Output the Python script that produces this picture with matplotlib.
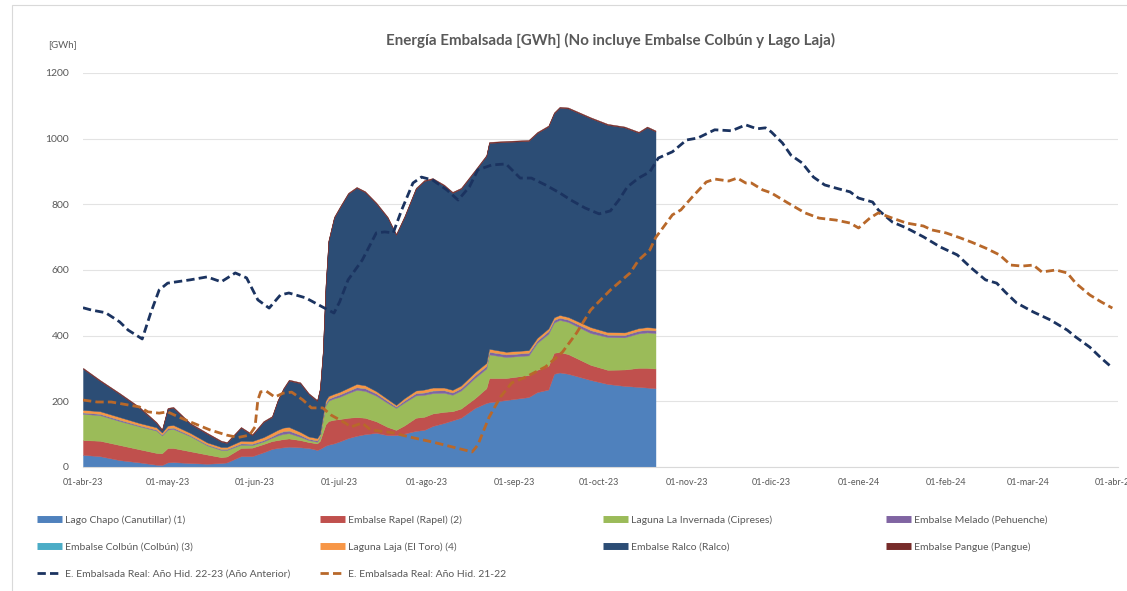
import numpy as np
import matplotlib
matplotlib.use('Agg')
import matplotlib.pyplot as plt
from matplotlib.lines import Line2D
from matplotlib.patches import Rectangle

plt.rcParams['font.family'] = ['Lato', 'DejaVu Sans']

# ---------------- DATA ----------------
start_date = '2023-04-01'
# days since 01-abr-23 for the stacked series
stack_days = [0, 6, 13, 20, 26, 28, 30, 32, 38, 44,
              49, 51, 56, 60, 64, 67, 69, 71, 73, 77,
              80, 83, 84, 85, 86, 87, 89, 91, 94, 97,
              100, 104, 108, 111, 114, 118, 121, 124, 128, 131,
              134, 139, 143, 144, 150, 158, 161, 165, 167, 169,
              172, 180, 186, 192, 197, 200, 203]

lago_chapo = [37, 33, 21, 14, 7, 6, 14, 15, 12, 10,
              12, 14, 33, 33, 45, 55, 58, 60, 62, 60,
              58, 52, 55, 60, 65, 68, 72, 78, 88, 95,
              100, 104, 97, 97, 102, 110, 113, 125, 134, 142,
              150, 180, 195, 197, 204, 213, 228, 236, 284, 288,
              284, 265, 253, 247, 244, 242, 240]
embalse_rapel = [45, 47, 46, 40, 36, 36, 44, 43, 36, 28,
                 18, 18, 25, 26, 25, 24, 24, 25, 25, 22,
                 18, 20, 25, 45, 65, 72, 72, 68, 62, 57,
                 50, 35, 25, 16, 25, 40, 40, 38, 34, 28,
                 28, 30, 45, 74, 67, 67, 68, 72, 64, 62,
                 60, 46, 43, 50, 58, 60, 60]
laguna_invernada = [80, 78, 73, 70, 68, 54, 56, 58, 46, 28,
                    22, 20, 10, 8, 8, 10, 14, 16, 16, 10,
                    6, 5, 10, 35, 58, 62, 65, 68, 75, 83,
                    82, 78, 73, 67, 70, 68, 67, 62, 58, 50,
                    55, 62, 60, 72, 64, 60, 82, 98, 92, 98,
                    98, 97, 100, 98, 105, 108, 108]
embalse_melado = [4, 4, 4, 3, 3, 3, 4, 4, 3, 3,
                  3, 3, 4, 4, 4, 5, 7, 8, 8, 6,
                  4, 4, 4, 5, 6, 6, 6, 7, 7, 8,
                  8, 7, 6, 4, 6, 7, 7, 8, 8, 7,
                  7, 8, 8, 8, 8, 8, 7, 8, 8, 7,
                  7, 9, 7, 7, 8, 8, 8]
embalse_colbun = [0, 0, 0, 0, 0, 0, 0, 0, 0, 0,
                  0, 0, 0, 0, 0, 0, 0, 0, 0, 0,
                  0, 0, 0, 0, 0, 0, 0, 0, 0, 0,
                  0, 0, 0, 0, 0, 0, 0, 0, 0, 0,
                  0, 0, 0, 0, 0, 0, 0, 0, 0, 0,
                  0, 0, 0, 0, 0, 0, 0]
laguna_laja = [8, 8, 8, 7, 7, 6, 8, 8, 7, 6,
               6, 6, 8, 8, 9, 10, 10, 11, 11, 9,
               7, 7, 7, 8, 8, 8, 8, 8, 9, 10,
               9, 7, 6, 5, 7, 8, 9, 9, 8, 8,
               8, 9, 9, 9, 8, 8, 8, 8, 8, 8,
               8, 9, 8, 8, 8, 8, 8]
embalse_ralco = [125, 92, 70, 46, 13, 7, 51, 52, 27, 26,
                 16, 12, 39, 18, 46, 48, 88, 117, 141, 148,
                 129, 113, 136, 194, 349, 471, 536, 560, 591, 597,
                 588, 571, 552, 518, 552, 614, 635, 635, 615, 600,
                 599, 613, 630, 627, 639, 637, 624, 615, 621, 631,
                 635, 636, 631, 624, 595, 608, 598]
embalse_pangue = [3, 3, 3, 3, 3, 3, 3, 3, 3, 3,
                  3, 3, 3, 3, 3, 3, 3, 3, 3, 3,
                  3, 3, 3, 3, 3, 3, 3, 3, 3, 3,
                  3, 3, 3, 3, 3, 3, 3, 3, 3, 3,
                  3, 3, 3, 3, 3, 3, 3, 3, 3, 3,
                  3, 3, 3, 3, 3, 3, 3]

# E. Embalsada Real: Año Hid. 22-23 (Año Anterior)
days_2223 = [0, 3, 8, 13, 16, 21, 24, 27, 30, 38, 44,
             49, 54, 58, 62, 66, 70, 73, 79, 85, 89,
             91, 94, 99, 104, 107, 110, 113, 117, 120, 124,
             129, 133, 137, 140, 145, 150, 155, 159, 164, 169,
             173, 178, 183, 187, 190, 193, 197, 201, 204, 209,
             214, 218, 224, 230, 235, 239, 242, 244, 248, 251,
             255, 259, 263, 268, 272, 275, 280, 282, 287, 292,
             298, 304, 310, 315, 320, 324, 327, 331, 337, 343,
             349, 352, 357, 361, 365]
vals_2223 = [485, 478, 470, 442, 417, 390, 469, 539, 560, 570, 579,
             564, 591, 576, 509, 484, 524, 530, 515, 487, 469,
             503, 570, 630, 713, 716, 713, 783, 865, 883, 874,
             844, 813, 853, 905, 920, 923, 880, 880, 859, 835,
             813, 789, 771, 780, 813, 853, 880, 899, 941, 960,
             996, 1002, 1027, 1024, 1042, 1030, 1033, 1021, 987, 950,
             926, 883, 859, 847, 838, 819, 807, 783, 746, 728,
             701, 670, 646, 606, 570, 560, 533, 500, 472, 448,
             417, 396, 365, 332, 302]

# E. Embalsada Real: Año Hid. 21-22
days_2122 = [0, 5, 10, 16, 20, 23, 27, 30, 34, 39,
             45, 51, 55, 59, 61, 62, 63, 65, 68, 71,
             74, 78, 81, 85, 88, 93, 95, 99, 102, 110,
             116, 124, 131, 138, 140, 144, 148, 152, 157, 164,
             170, 175, 180, 187, 194, 197, 201, 203, 209, 212,
             216, 221, 224, 229, 232, 235, 237, 241, 244, 250,
             256, 261, 267, 272, 275, 279, 282, 287, 292, 298,
             301, 306, 311, 315, 320, 325, 329, 333, 337, 340,
             345, 349, 352, 357, 361, 365]
vals_2122 = [204, 198, 198, 189, 183, 168, 164, 168, 152, 134,
             113, 97, 90, 97, 122, 204, 229, 231, 213, 225,
             228, 204, 180, 180, 158, 134, 122, 134, 113, 104,
             91, 76, 61, 46, 67, 152, 213, 256, 274, 305,
             350, 408, 478, 539, 591, 630, 661, 698, 768, 783,
             822, 868, 877, 871, 880, 865, 865, 844, 835, 804,
             774, 758, 752, 743, 728, 758, 774, 758, 743, 734,
             722, 713, 698, 685, 667, 646, 615, 612, 615, 594,
             600, 591, 560, 524, 503, 484]

stack_labels = ['Lago Chapo (Canutillar) (1)', 'Embalse Rapel (Rapel) (2)',
                'Laguna La Invernada (Cipreses)', 'Embalse Melado (Pehuenche)',
                'Embalse Colbún (Colbún) (3)', 'Laguna Laja (El Toro) (4)',
                'Embalse Ralco (Ralco)', 'Embalse Pangue (Pangue)']
line_labels = ['E. Embalsada Real: Año Hid. 22-23 (Año Anterior)',
               'E. Embalsada Real: Año Hid. 21-22']

tick_dates = ['2023-04-01', '2023-05-01', '2023-06-01', '2023-07-01', '2023-08-01',
              '2023-09-01', '2023-10-01', '2023-11-01', '2023-12-01', '2024-01-01',
              '2024-02-01', '2024-03-01', '2024-04-01']
tick_labels = ['01-abr-23', '01-may-23', '01-jun-23', '01-jul-23', '01-ago-23',
               '01-sep-23', '01-oct-23', '01-nov-23', '01-dic-23', '01-ene-24',
               '01-feb-24', '01-mar-24', '01-abr-24']
y_ticks = [0, 200, 400, 600, 800, 1000, 1200]

title = 'Energía Embalsada [GWh] (No incluye Embalse Colbún y Lago Laja)'
unit_label = '[GWh]'

# ---------------- STYLE ----------------
stack_colors = ['#4F81BD', '#C0504D', '#9BBB59', '#8064A2',
                '#4BACC6', '#F79646', '#2C4D75', '#772C2A']
c_2223 = '#1B3360'
c_2122 = '#B8682A'
txt = '#595959'

W, H = 1127, 591
fig = plt.figure(figsize=(W / 100, H / 100), dpi=100)
ax = fig.add_axes([83 / W, 1 - 467 / H, (1118 - 83) / W, (467 - 73) / H])

base = np.datetime64(start_date)
sd = base + np.array(stack_days).astype('timedelta64[D]')
d1 = base + np.array(days_2223).astype('timedelta64[D]')
d2 = base + np.array(days_2122).astype('timedelta64[D]')

layers = [lago_chapo, embalse_rapel, laguna_invernada, embalse_melado,
          embalse_colbun, laguna_laja, embalse_ralco, embalse_pangue]
ax.stackplot(sd, *layers, colors=stack_colors, linewidth=0.3,
             edgecolor='face', zorder=2)

ax.plot(d1, vals_2223, color=c_2223, lw=2.0, dashes=(3, 1.5), zorder=4)
ax.plot(d2, vals_2122, color=c_2122, lw=2.0, dashes=(3, 1.5), zorder=4)

ax.set_xlim(base, base + np.timedelta64(367, 'D'))
ax.set_ylim(0, 1200)
ax.set_yticks(y_ticks)
ax.set_yticklabels([str(v) for v in y_ticks])
ax.set_xticks(np.array(tick_dates, dtype='datetime64[D]'))
ax.set_xticklabels(tick_labels)
ax.tick_params(axis='both', length=0, colors=txt)
ax.tick_params(axis='y', labelsize=7.5, pad=10)
ax.tick_params(axis='x', labelsize=6.5, pad=8)
for s in ['top', 'right', 'left']:
    ax.spines[s].set_visible(False)
ax.spines['bottom'].set_color('#D9D9D9')
ax.spines['bottom'].set_linewidth(0.8)
ax.yaxis.grid(True, color='#E3E3E3', lw=0.8)
ax.set_axisbelow(True)

fig.text(610 / W, 1 - 40 / H, title, ha='center', va='center',
         fontsize=10.9, fontweight='bold', color=txt)
fig.text(48 / W, 1 - 45 / H, unit_label, ha='left', va='center',
         fontsize=7, color=txt)

# chart border (partially visible)
fig.add_artist(Rectangle((12 / W, -0.2), 1.5, 1.2 - 5 / H, transform=fig.transFigure,
                         fill=False, edgecolor='#D9D9D9', lw=0.8))

# legend: 4 columns laid out like the original grid
hs = [Line2D([], [], color=c, lw=5, solid_capstyle='butt') for c in stack_colors]
h1 = Line2D([], [], color=c_2223, lw=2.0, dashes=(3, 1.5))
h2 = Line2D([], [], color=c_2122, lw=2.0, dashes=(3, 1.5))
columns = [
    ([hs[0], hs[4], h1], [stack_labels[0], stack_labels[4], line_labels[0]], 37),
    ([hs[1], hs[5], h2], [stack_labels[1], stack_labels[5], line_labels[1]], 320),
    ([hs[2], hs[6]], [stack_labels[2], stack_labels[6]], 603),
    ([hs[3], hs[7]], [stack_labels[3], stack_labels[7]], 886),
]
for handles, labels, x in columns:
    fig.legend(handles, labels, loc='upper left', bbox_to_anchor=(x / W, 1 - 515 / H),
               frameon=False, fontsize=7.5, labelspacing=1.7, handlelength=2.4,
               handletextpad=0.3, borderpad=0, borderaxespad=0, labelcolor=txt)

fig.savefig('out.png', dpi=100)
